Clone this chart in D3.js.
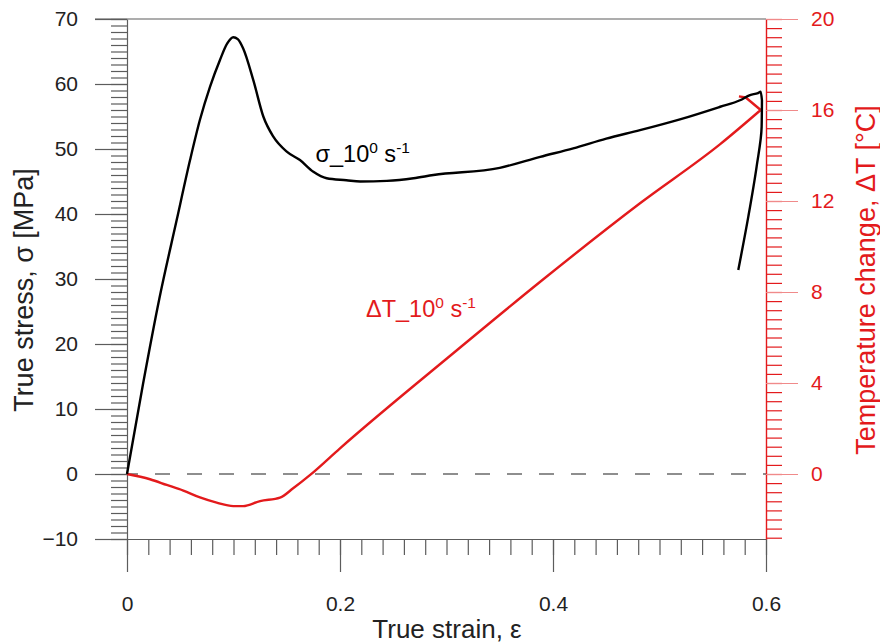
<!DOCTYPE html>
<html>
<head>
<meta charset="utf-8">
<script src="https://cdn.jsdelivr.net/npm/d3@7"></script>
<style>
  body { margin: 0; background: #fff; }
  svg { font-family: "Liberation Sans", Arial, sans-serif; }
</style>
</head>
<body>
<svg id="chart" width="880" height="644"></svg>
<script>
// stress curve (true strain, MPa)
var sigmaStrain = [0, 0.015, 0.0304, 0.0467, 0.0592, 0.0685, 0.078, 0.0873, 0.094, 0.0998, 0.104, 0.109, 0.1186, 0.128, 0.1374, 0.15, 0.1624, 0.175, 0.1875, 0.206, 0.219, 0.244, 0.269, 0.2877, 0.35, 0.388, 0.419, 0.45, 0.4817, 0.52, 0.557, 0.5756, 0.585, 0.5925, 0.595, 0.5962, 0.5959, 0.5912, 0.5834, 0.574];
var sigmaValues = [0, 13.8, 27.0, 39.1, 48.3, 54.5, 59.6, 63.7, 66.2, 67.2, 66.9, 65.5, 60.6, 55.0, 51.9, 49.6, 48.3, 46.5, 45.5, 45.2, 45.0, 45.1, 45.5, 46.0, 47.1, 48.8, 50.1, 51.6, 52.9, 54.6, 56.5, 57.5, 58.3, 58.6, 58.8, 57.5, 53.4, 47.3, 39.6, 31.4];

// temperature change curve (true strain, degC)
var dTStrain = [0, 0.0216, 0.0373, 0.0529, 0.0685, 0.0842, 0.0998, 0.109, 0.125, 0.1437, 0.156, 0.172, 0.2, 0.31, 0.388, 0.4817, 0.557, 0.595, 0.581, 0.5746];
var dTValues = [0, -0.23, -0.48, -0.73, -1.03, -1.26, -1.41, -1.41, -1.19, -1.04, -0.63, -0.04, 1.13, 5.45, 8.45, 11.9, 14.5, 16.0, 16.55, 16.6];

var xTicks = [0, 0.2, 0.4, 0.6];
var leftTicks = [-10, 0, 10, 20, 30, 40, 50, 60, 70];
var rightTicks = [0, 4, 8, 12, 16, 20];

var svg = d3.select("#chart");

var x = d3.scaleLinear().domain([0, 0.6]).range([127, 766]);
var yL = d3.scaleLinear().domain([-10, 70]).range([539, 19]);
var yR = d3.scaleLinear().domain([-20 / 7, 20]).range([539, 19]);

var gray = "#5c5c5c";
var red = "#e31a1c";

// top frame line
svg.append("line")
  .attr("x1", 95).attr("x2", 766).attr("y1", yL(70)).attr("y2", yL(70))
  .attr("stroke", gray).attr("stroke-width", 1.2);

// zero line (dashed)
svg.append("line")
  .attr("x1", x(0)).attr("x2", x(0.6)).attr("y1", yL(0)).attr("y2", yL(0))
  .attr("stroke", "#6a6a6a").attr("stroke-width", 1.5)
  .attr("stroke-dasharray", "15,17").attr("stroke-dashoffset", 4);

// left axis: minor then major
svg.append("g").attr("transform", "translate(" + x(0) + ",0)")
  .call(d3.axisLeft(yL).tickValues(d3.range(-10, 70.1, 1)).tickSize(16).tickFormat(""))
  .call(g => g.select(".domain").remove())
  .selectAll("line").attr("stroke", gray).attr("stroke-width", 1.2);
var gL = svg.append("g").attr("transform", "translate(" + x(0) + ",0)")
  .call(d3.axisLeft(yL).tickValues(leftTicks).tickSize(32).tickSizeOuter(0).tickPadding(17).tickFormat(d3.format("d")));
gL.selectAll("line, path").attr("stroke", gray).attr("stroke-width", 1.2);
gL.selectAll("text").attr("font-size", 21).attr("fill", "#222").attr("font-family", "Liberation Sans, Arial, sans-serif");

// bottom axis
svg.append("g").attr("transform", "translate(0," + yL(-10) + ")")
  .call(d3.axisBottom(x).tickValues(d3.range(0, 0.601, 0.02)).tickSize(16).tickFormat(""))
  .call(g => g.select(".domain").remove())
  .selectAll("line").attr("stroke", gray).attr("stroke-width", 1.2);
var gB = svg.append("g").attr("transform", "translate(0," + yL(-10) + ")")
  .call(d3.axisBottom(x).tickValues(xTicks).tickSize(33).tickSizeOuter(0).tickPadding(24).tickFormat(d => d === 0 ? "0" : d3.format(".1f")(d)));
gB.selectAll("line, path").attr("stroke", gray).attr("stroke-width", 1.2);
gB.selectAll("text").attr("font-size", 21).attr("fill", "#222").attr("font-family", "Liberation Sans, Arial, sans-serif");

// right axis (temperature)
svg.append("g").attr("transform", "translate(" + x(0.6) + ",0)")
  .call(d3.axisRight(yR).tickValues(d3.range(-2.8, 20.01, 0.4)).tickSize(16).tickFormat(""))
  .call(g => g.select(".domain").remove())
  .selectAll("line").attr("stroke", red).attr("stroke-width", 1.2);
var gR = svg.append("g").attr("transform", "translate(" + x(0.6) + ",0)")
  .call(d3.axisRight(yR).tickValues(rightTicks).tickSize(32).tickSizeOuter(0).tickPadding(13).tickFormat(d3.format("d")));
gR.select(".domain").attr("stroke", red).attr("stroke-width", 1.4);
gR.selectAll(".tick line").attr("stroke", "#f08a8a").attr("stroke-width", 1);
gR.selectAll("text").attr("font-size", 21).attr("fill", red).attr("font-family", "Liberation Sans, Arial, sans-serif");

// curves: loading part is monotone in strain, the unloading tail is monotone in stress
var sigmaPts = d3.zip(sigmaStrain, sigmaValues);
var peakIdx = d3.maxIndex(sigmaStrain);
var riseLine = d3.line().x(d => x(d[0])).y(d => yL(d[1])).curve(d3.curveMonotoneX);
var tailLine = d3.line().x(d => x(d[0])).y(d => yL(d[1])).curve(d3.curveMonotoneY);

var dTPts = d3.zip(dTStrain, dTValues);
var dTPeak = d3.maxIndex(dTStrain);
var dTLine = d3.line().x(d => x(d[0])).y(d => yR(d[1])).curve(d3.curveMonotoneX);
var dTHook = d3.line().x(d => x(d[0])).y(d => yR(d[1]));

svg.append("path")
  .attr("d", dTLine(dTPts.slice(0, dTPeak + 1)) + dTHook(dTPts.slice(dTPeak)))
  .attr("fill", "none").attr("stroke", red).attr("stroke-width", 2.4)
  .attr("stroke-linejoin", "round");

svg.append("path")
  .attr("d", riseLine(sigmaPts.slice(0, peakIdx + 1)) + tailLine(sigmaPts.slice(peakIdx)))
  .attr("fill", "none").attr("stroke", "#000").attr("stroke-width", 2.4)
  .attr("stroke-linejoin", "round");

// curve labels
function rateLabel(txt, px, py, color) {
  var t = svg.append("text").attr("x", px).attr("y", py)
    .attr("font-size", 23.5).attr("fill", color);
  t.append("tspan").text(txt + "_10");
  t.append("tspan").attr("dy", -9).attr("font-size", 15.5).text("0");
  t.append("tspan").attr("dy", 9).text(" s");
  t.append("tspan").attr("dy", -9).attr("font-size", 15.5).text("-1");
}
rateLabel("σ", x(0.177), yL(48.0), "#000");
rateLabel("ΔT", x(0.2244), yR(6.9), red);

// axis titles
svg.append("text")
  .attr("x", 447).attr("y", 638)
  .attr("text-anchor", "middle").attr("font-size", 26).attr("fill", "#222")
  .text("True strain, ε");

svg.append("text")
  .attr("transform", "translate(33,290) rotate(-90)")
  .attr("text-anchor", "middle").attr("font-size", 27).attr("fill", "#222")
  .text("True stress, σ [MPa]");

svg.append("text")
  .attr("transform", "translate(875,280) rotate(-90)")
  .attr("text-anchor", "middle").attr("font-size", 27).attr("fill", red)
  .text("Temperature change, ΔT [°C]");
</script>
</body>
</html>
